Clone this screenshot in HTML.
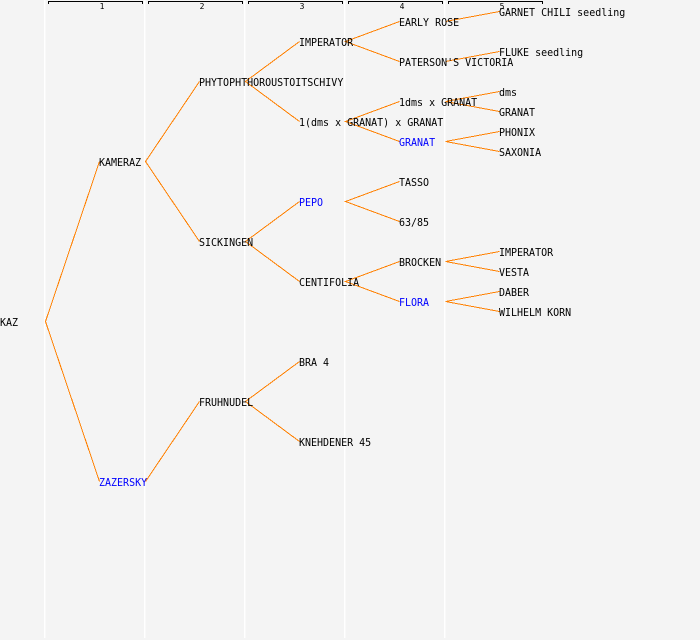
<!DOCTYPE html>
<html><head><meta charset="utf-8"><style>
html,body{margin:0;padding:0;background:#f4f4f4}
svg{display:block}
text{font-family:"DejaVu Sans Mono","Liberation Mono",monospace;font-size:11px;fill:#000;white-space:pre}
.b{fill:#0000ff}
.n{font-size:8px;text-anchor:middle}
</style></head><body>
<svg width="700" height="640" viewBox="0 0 700 640" xmlns="http://www.w3.org/2000/svg">
<rect width="700" height="640" fill="#f4f4f4"/>
<g fill="#ffffff" shape-rendering="crispEdges">
<rect x="44" y="0" width="1" height="638"/><rect x="144" y="0" width="1" height="638"/><rect x="244" y="0" width="1" height="638"/><rect x="344" y="0" width="1" height="638"/><rect x="444" y="0" width="1" height="638"/>
</g>
<g fill="#f9f9f9" shape-rendering="crispEdges">
<rect x="45" y="0" width="1" height="638"/><rect x="145" y="0" width="1" height="638"/><rect x="245" y="0" width="1" height="638"/><rect x="345" y="0" width="1" height="638"/><rect x="445" y="0" width="1" height="638"/>
</g>
<g fill="none" stroke="#000" shape-rendering="crispEdges">
<path d="M48.5 4V1.500H142.500V4"/><path d="M148.500 4V1.500H242.500V4"/><path d="M248.500 4V1.500H342.500V4"/><path d="M348.500 4V1.500H442.500V4"/><path d="M448.500 4V1.500H542.500V4"/>
</g>
<g>
<text class="n" x="102" y="9">1</text><text class="n" x="202" y="9">2</text><text class="n" x="302" y="9">3</text><text class="n" x="402" y="9">4</text><text class="n" x="502" y="9">5</text>
</g>
<g fill="none" stroke="#ff8000" stroke-width="1" shape-rendering="crispEdges">
<path d="M99.500 161.500L45.500 321.500L99.500 481.500"/>
<path d="M199.500 81.500L145.500 161.500L199.500 241.500"/>
<path d="M199.500 401.500L145.500 481.500"/>
<path d="M299.500 41.500L245.500 81.500L299.500 121.500"/>
<path d="M299.500 201.500L245.500 241.500L299.500 281.500"/>
<path d="M299.500 361.500L245.500 401.500L299.500 441.500"/>
<path d="M399.500 21.500L345.500 41.500L399.500 61.500"/>
<path d="M399.500 101.500L345.500 121.500L399.500 141.500"/>
<path d="M399.500 181.500L345.500 201.500L399.500 221.500"/>
<path d="M399.500 261.500L345.500 281.500L399.500 301.500"/>
<path d="M499.500 11.500L445.500 21.500"/>
<path d="M499.500 51.500L445.500 61.500"/>
<path d="M499.500 91.500L445.500 101.500L499.500 111.500"/>
<path d="M499.500 131.500L445.500 141.500L499.500 151.500"/>
<path d="M499.500 251.500L445.500 261.500L499.500 271.500"/>
<path d="M499.500 291.500L445.500 301.500L499.500 311.500"/>
</g>
<g transform="scale(0.9091 1)">
<text x="0" y="326">KAZ</text>
<text x="108.900" y="166">KAMERAZ</text>
<text class="b" x="108.900" y="486">ZAZERSKY</text>
<text x="218.900" y="86">PHYTOPHTHOROUSTOITSCHIVY</text>
<text x="218.900" y="246">SICKINGEN</text>
<text x="218.900" y="406">FRUHNUDEL</text>
<text x="328.900" y="46">IMPERATOR</text>
<text x="328.900" y="126">1(dms x GRANAT) x GRANAT</text>
<text class="b" x="328.900" y="206">PEPO</text>
<text x="328.900" y="286">CENTIFOLIA</text>
<text x="328.900" y="366">BRA 4</text>
<text x="328.900" y="446">KNEHDENER 45</text>
<text x="438.900" y="26">EARLY ROSE</text>
<text x="438.900" y="66">PATERSON'S VICTORIA</text>
<text x="438.900" y="106">1dms x GRANAT</text>
<text class="b" x="438.900" y="146">GRANAT</text>
<text x="438.900" y="186">TASSO</text>
<text x="438.900" y="226">63/85</text>
<text x="438.900" y="266">BROCKEN</text>
<text class="b" x="438.900" y="306">FLORA</text>
<text x="548.900" y="16">GARNET CHILI seedling</text>
<text x="548.900" y="56">FLUKE seedling</text>
<text x="548.900" y="96">dms</text>
<text x="548.900" y="116">GRANAT</text>
<text x="548.900" y="136">PHONIX</text>
<text x="548.900" y="156">SAXONIA</text>
<text x="548.900" y="256">IMPERATOR</text>
<text x="548.900" y="276">VESTA</text>
<text x="548.900" y="296">DABER</text>
<text x="548.900" y="316">WILHELM KORN</text>
</g>
</svg>
</body></html>
